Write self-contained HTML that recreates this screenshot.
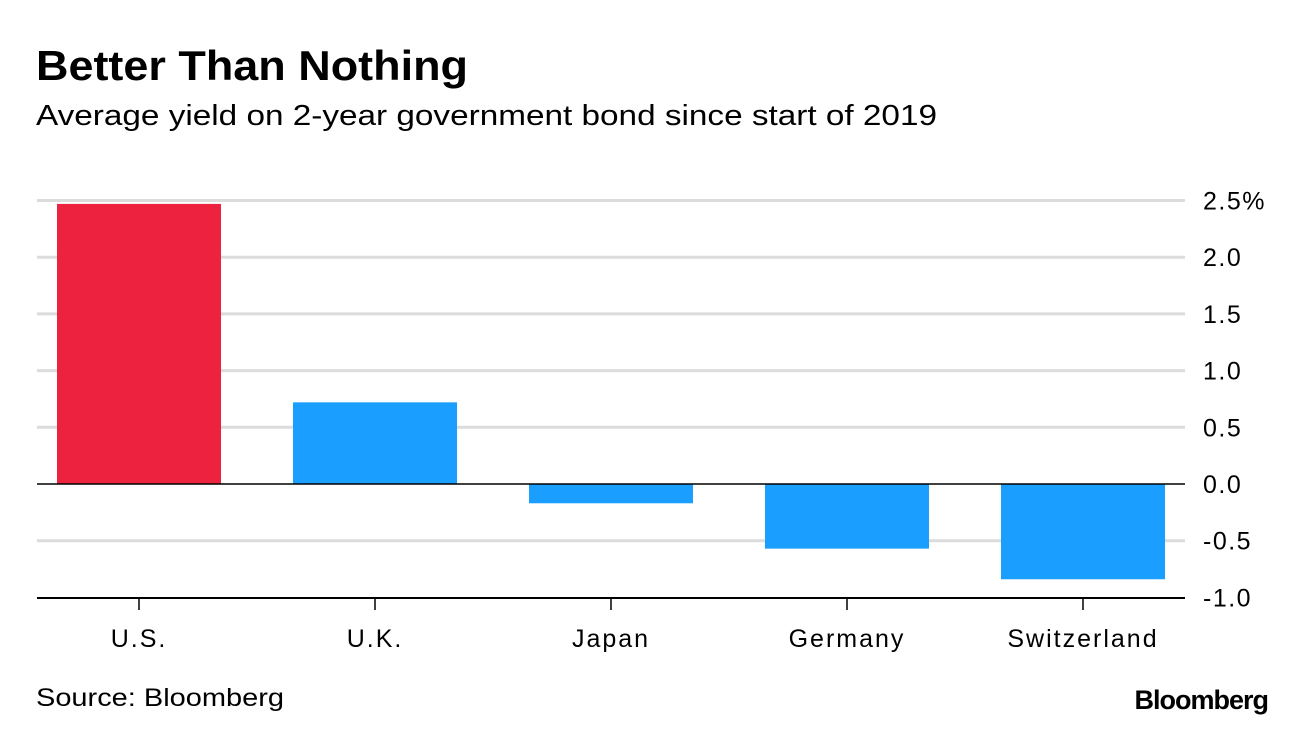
<!DOCTYPE html>
<html><head><meta charset="utf-8"><style>
body{margin:0;background:#fff;width:1296px;height:730px;overflow:hidden;font-family:"Liberation Sans",Arial,sans-serif;}
</style></head><body>
<svg width="1296" height="730" style="position:absolute;left:0;top:0">
<text x="36" y="80" font-size="42" font-weight="bold" fill="#000" textLength="432" lengthAdjust="spacingAndGlyphs">Better Than Nothing</text>
<text x="36" y="125" font-size="29" fill="#000" textLength="901" lengthAdjust="spacingAndGlyphs">Average yield on 2-year government bond since start of 2019</text>
<g id="grid"></g>
<g id="bars"></g>
<g id="axis"></g>
<text x="36" y="706" font-size="25" fill="#000" textLength="248" lengthAdjust="spacingAndGlyphs">Source: Bloomberg</text>
<text x="1268" y="709" font-size="27" font-weight="bold" text-anchor="end" letter-spacing="-1" fill="#000">Bloomberg</text>
</svg>
<script>
const categories=["U.S.","U.K.","Japan","Germany","Switzerland"];
const values=[2.47,0.72,-0.17,-0.57,-0.84];
const tickValues=[2.5,2.0,1.5,1.0,0.5,0.0,-0.5,-1.0];
const tickLabels=["2.5%","2.0","1.5","1.0","0.5","0.0","-0.5","-1.0"];
const NS="http://www.w3.org/2000/svg";
function y(v){return 484-v*113.4;}
function xc(i){return 139+236*i;}
function mk(tag,attrs,parent){const e=document.createElementNS(NS,tag);for(const k in attrs)e.setAttribute(k,attrs[k]);document.getElementById(parent).appendChild(e);return e;}
tickValues.forEach((v,i)=>{
  if(v!==0&&v!==-1){const l=mk('line',{x1:37,x2:1185,y1:y(v),y2:y(v),stroke:'#dcdcdc','stroke-width':3},'grid');
  
  }
  const t=mk('text',{x:1203,y:y(v)+9,'font-size':25,'letter-spacing':1.5,fill:'#000'},'axis');
  t.textContent=tickLabels[i];
  
  
});
values.forEach((v,i)=>{
  const r=mk('rect',{x:xc(i)-82,width:164,y:Math.min(y(v),y(0)),height:Math.abs(y(v)-y(0)),fill:i===0?'#ec223f':'#1a9eff'},'bars');
  
  
  const tk=mk('line',{x1:xc(i),x2:xc(i),y1:598,y2:610,stroke:'#000','stroke-width':1.5},'axis');
  
  
  const t=mk('text',{x:xc(i),y:647,'font-size':25,'letter-spacing':2,'text-anchor':'middle',fill:'#000'},'axis');
  t.textContent=categories[i];
  
  
});
const z=mk('line',{x1:37,x2:1185,y1:y(0),y2:y(0),stroke:'#000','stroke-width':1.5},'axis');


const b=mk('line',{x1:37,x2:1185,y1:598,y2:598,stroke:'#000','stroke-width':2},'axis');


</script>
</body></html>
